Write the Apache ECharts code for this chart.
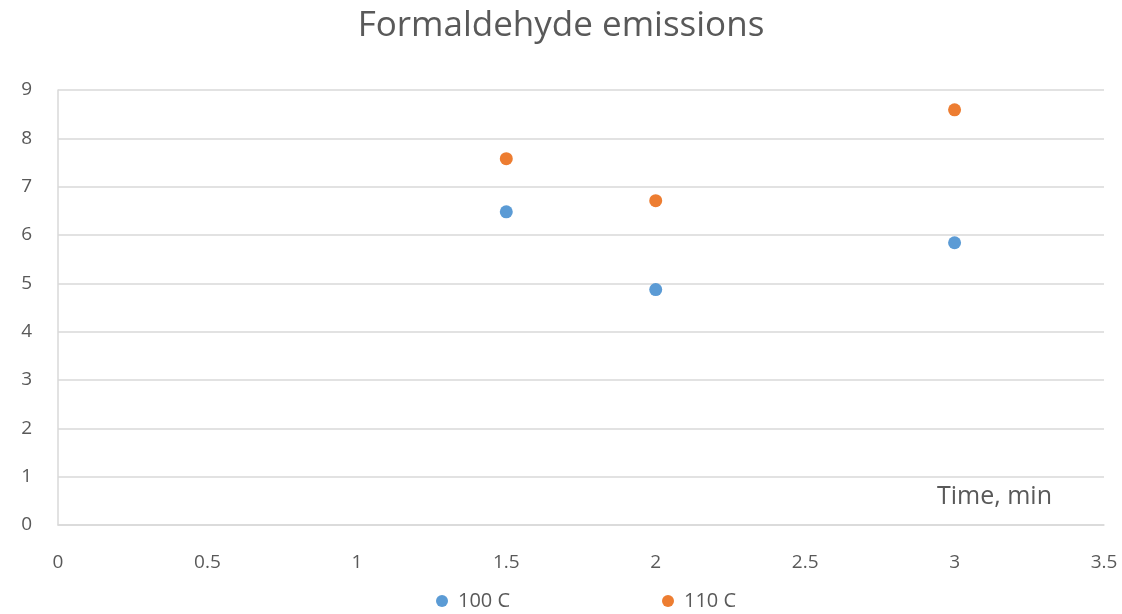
<!DOCTYPE html>
<html><head><meta charset="utf-8">
<script src="https://cdn.jsdelivr.net/npm/echarts@6/dist/echarts.min.js"></script>
<style>html,body{margin:0;padding:0;background:#fff}#c{width:1122px;height:614px}</style>
</head><body><div id="c"></div>
<script>
const xTimes = [1.5, 2, 3];
const series100 = [6.48, 4.87, 5.84];
const series110 = [7.58, 6.71, 8.59];
const seriesNames = ['100 C', '110 C'];
const chart = echarts.init(document.getElementById('c'));
const font = '"Open Sans", "Noto Sans", sans-serif';
const legendBase = { bottom: -2, icon: 'circle', itemWidth: 12, itemHeight: 12,
  textStyle: { color: '#595959', fontSize: 20, fontFamily: font, padding: [0, 0, 0, 5] } };
chart.setOption({
  animation: false,
  title: { text: 'Formaldehyde emissions', left: 'center', top: 4,
    textStyle: { fontFamily: font, fontSize: 35, fontWeight: 'normal', color: '#595959' } },
  grid: { left: 58, right: 18, top: 90, bottom: 89 },
  xAxis: { type: 'value', min: 0, max: 3.5, interval: 0.5,
    axisLine: { show: true, lineStyle: { color: '#d9d9d9', width: 1.5 } },
    axisTick: { show: false }, splitLine: { show: false },
    axisLabel: { margin: 28, color: '#595959', fontSize: 19, fontFamily: font } },
  yAxis: { type: 'value', min: 0, max: 9, interval: 1,
    axisLine: { show: true, lineStyle: { color: '#d9d9d9', width: 1.5 } },
    axisTick: { show: false },
    splitLine: { lineStyle: { color: '#d9d9d9', width: 1.5 } },
    axisLabel: { margin: 26, color: '#595959', fontSize: 19, fontFamily: font } },
  legend: [
    Object.assign({}, legendBase, { left: 431, data: [seriesNames[0]] }),
    Object.assign({}, legendBase, { left: 657, data: [seriesNames[1]] })
  ],
  graphic: [{ type: 'text', left: 937, top: 484,
    style: { text: 'Time, min', fill: '#595959', fontSize: 25, fontFamily: font } }],
  series: [
    { name: seriesNames[0], type: 'scatter', symbolSize: 13, itemStyle: { color: '#5b9bd5', opacity: 1 },
      data: xTimes.map((x, i) => [x, series100[i]]) },
    { name: seriesNames[1], type: 'scatter', symbolSize: 13, itemStyle: { color: '#ed7d31', opacity: 1 },
      data: xTimes.map((x, i) => [x, series110[i]]) }
  ]
});
</script></body></html>
